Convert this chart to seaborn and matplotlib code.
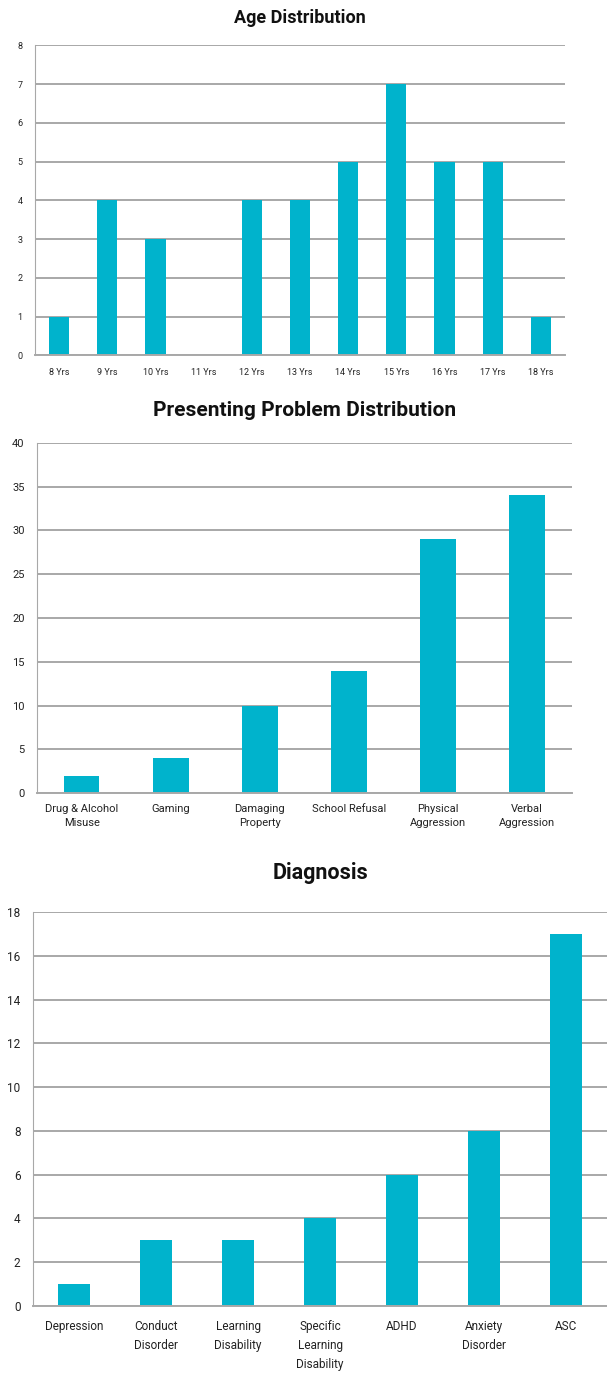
import numpy as np
import pandas as pd
import seaborn as sns
import matplotlib.pyplot as plt
from matplotlib.ticker import FixedLocator

# data
age_labels = ["8 Yrs", "9 Yrs", "10 Yrs", "11 Yrs", "12 Yrs", "13 Yrs",
              "14 Yrs", "15 Yrs", "16 Yrs", "17 Yrs", "18 Yrs"]
age_counts = [1, 4, 3, 0, 4, 4, 5, 7, 5, 5, 1]

problem_labels = ["Drug & Alcohol\nMisuse", "Gaming", "Damaging\nProperty",
                  "School Refusal", "Physical\nAggression", "Verbal\nAggression"]
problem_counts = [2, 4, 10, 14, 29, 34]

diag_labels = ["Depression", "Conduct\nDisorder", "Learning\nDisability",
               "Specific\nLearning\nDisability", "ADHD", "Anxiety\nDisorder", "ASC"]
diag_counts = [1, 3, 3, 4, 6, 8, 17]

BAR = "#00B3CC"
GRID = "#A8A8A8"

sns.set_style("white")
plt.rcParams['font.family'] = ['Roboto', 'DejaVu Sans']

fig = plt.figure(figsize=(6.07, 13.77), dpi=100)


def draw(rect, labels, counts, title, ymax, ystep, width, ysize, xsize, tsize,
         title_y, lsp, xpad):
    ax = fig.add_axes(rect)
    df = pd.DataFrame({"label": labels, "count": counts})
    sns.barplot(data=df, x="label", y="count", color=BAR, width=width,
                saturation=1, linewidth=0, ax=ax)
    n = len(labels)
    ax.set_xlim(-0.5, n - 0.5)
    ax.set_ylim(0, ymax)
    ax.set_yticks(np.arange(0, ymax + 0.1, ystep))
    ax.yaxis.grid(True, color=GRID, linewidth=1.4)
    ax.set_axisbelow(True)
    for s in ["top", "right"]:
        ax.spines[s].set_visible(False)
    ax.spines["left"].set_color(GRID)
    ax.spines["bottom"].set_color(GRID)
    ax.spines["bottom"].set_linewidth(1.4)
    ax.tick_params(axis="y", length=4, color=GRID, labelsize=ysize, pad=5,
                   labelcolor="#222222")
    ax.tick_params(axis="x", which="major", length=0, labelsize=xsize, pad=xpad,
                   labelcolor="#222222")
    ax.xaxis.set_minor_locator(FixedLocator(np.arange(-0.5, n, 1.0)))
    ax.tick_params(axis="x", which="minor", length=5, color=GRID, width=1)
    ax.set_xlabel("")
    ax.set_ylabel("")
    for t in ax.get_xticklabels():
        t.set_linespacing(lsp)
    fig.text(rect[0] + rect[2] / 2, title_y, title, ha="center", va="center",
             fontsize=tsize, fontweight="bold", color="#111111")
    return ax


draw([0.0577, 0.742, 0.873, 0.225], age_labels, age_counts, "Age Distribution",
     8, 1, 0.42, 6.5, 6.5, 13, 1 - 18 / 1377, 1.2, 9)
draw([0.061, 0.4241, 0.881, 0.2542], problem_labels, problem_counts,
     "Presenting Problem Distribution", 40, 5, 0.4, 8, 8, 15, 1 - 410 / 1377, 1.45, 8)
draw([0.0544, 0.0516, 0.9456, 0.2861], diag_labels, diag_counts, "Diagnosis",
     18, 2, 0.4, 8.5, 8.5, 15.5, 1 - 873 / 1377, 1.6, 10)

fig.savefig("out.png", dpi=100)
